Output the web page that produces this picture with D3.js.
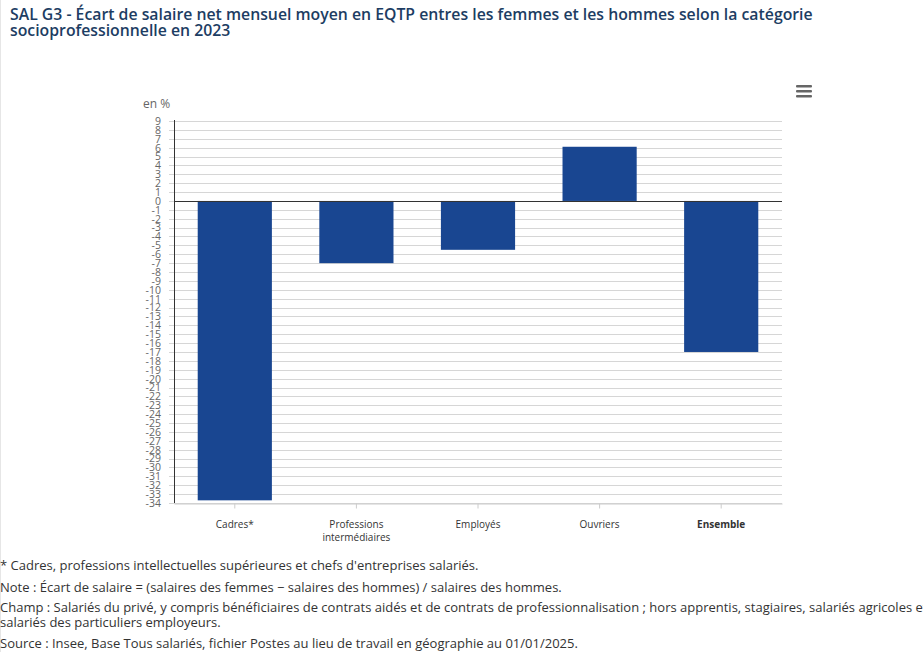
<!DOCTYPE html>
<html>
<head>
<meta charset="utf-8">
<script src="https://cdn.jsdelivr.net/npm/d3@7"></script>
<style>
  body { margin: 0; background: #fff; }
  svg { display: block; font-family: "Open Sans", sans-serif; }
</style>
</head>
<body>
<svg id="chart" width="923" height="652"></svg>
<script>
// données
const categories = ['Cadres*', 'Professions intermédiaires', 'Employés', 'Ouvriers', 'Ensemble'];
const values     = [-33.7, -7.0, -5.5, 6.1, -17.0];
const yTicks     = d3.range(-34, 10, 1);

const titleLines = [
  "SAL G3 - Écart de salaire net mensuel moyen en EQTP entres les femmes et les hommes selon la catégorie",
  "socioprofessionnelle en 2023"
];
const notes = [
  "* Cadres, professions intellectuelles supérieures et chefs d'entreprises salariés.",
  "Note : Écart de salaire = (salaires des femmes − salaires des hommes) / salaires des hommes.",
  "Champ : Salariés du privé, y compris bénéficiaires de contrats aidés et de contrats de professionnalisation ; hors apprentis, stagiaires, salariés agricoles et",
  "salariés des particuliers employeurs.",
  "Source : Insee, Base Tous salariés, fichier Postes au lieu de travail en géographie au 01/01/2025."
];
const noteY = [570, 592, 612, 627, 648];

// zone de tracé
const plot = {left: 174, right: 782, top: 121, bottom: 503};
const svg = d3.select('#chart');

// bordure gauche légère
svg.append('line').attr('x1', 0.5).attr('x2', 0.5).attr('y1', 0).attr('y2', 652)
  .attr('stroke', '#e6e6e6');

// titre
svg.append('text')
  .attr('x', 10).attr('y', 20)
  .attr('fill', '#1d3d63').attr('font-size', 15.8).attr('font-weight', 600)
  .selectAll('tspan').data(titleLines).join('tspan')
    .attr('x', 10).attr('dy', (d, i) => i ? 16 : 0)
    .text(d => d);

// échelles
const x = d3.scaleBand().domain(categories)
  .range([plot.left, plot.right]).paddingInner(0.39).paddingOuter(0.195);
const y = d3.scaleLinear().domain([-34, 9]).range([plot.bottom, plot.top]);

// grille
svg.append('g').selectAll('line').data(yTicks).join('line')
  .attr('x1', plot.left - 5).attr('x2', plot.right)
  .attr('y1', d => Math.round(y(d)) + 0.5).attr('y2', d => Math.round(y(d)) + 0.5)
  .attr('stroke', '#d6d6d6').attr('stroke-width', 1);

// axe Y
const yAxis = svg.append('g')
  .attr('transform', `translate(${plot.left},0)`)
  .call(d3.axisLeft(y).tickValues(yTicks).tickSize(0).tickPadding(13).tickFormat(d3.format('d')));
yAxis.select('.domain').remove();
yAxis.selectAll('text').attr('fill', '#666').attr('font-size', 10.5)
  .attr('font-family', '"Open Sans", sans-serif').text(d => String(d));

svg.append('line')
  .attr('x1', plot.left + 0.5).attr('x2', plot.left + 0.5)
  .attr('y1', plot.top - 1).attr('y2', plot.bottom)
  .attr('stroke', '#333').attr('stroke-width', 1);

svg.append('text').attr('x', 143).attr('y', 108)
  .attr('fill', '#666').attr('font-size', 12).text('en %');

// barres
svg.append('g').selectAll('rect').data(values).join('rect')
  .attr('x', (d, i) => x(categories[i]))
  .attr('width', x.bandwidth())
  .attr('y', d => y(Math.max(0, d)))
  .attr('height', d => Math.abs(y(d) - y(0)))
  .attr('fill', '#194691');

// ligne zéro
svg.append('line')
  .attr('x1', plot.left).attr('x2', plot.right)
  .attr('y1', Math.round(y(0)) + 0.5).attr('y2', Math.round(y(0)) + 0.5)
  .attr('stroke', '#333').attr('stroke-width', 1);

// axe X
const xAxis = svg.append('g')
  .attr('transform', `translate(0,${Math.round(plot.bottom) + 0.5})`)
  .call(d3.axisBottom(x).tickSize(5).tickSizeOuter(0).tickFormat(''));
xAxis.select('.domain').attr('stroke', '#ccc');
xAxis.selectAll('.tick line').attr('stroke', '#ccc');

const labelWrap = {'Professions intermédiaires': ['Professions', 'intermédiaires']};
svg.append('g').selectAll('text').data(categories).join('text')
  .attr('x', d => x(d) + x.bandwidth() / 2)
  .attr('y', 528)
  .attr('text-anchor', 'middle')
  .attr('fill', '#333').attr('font-size', 10)
  .attr('font-weight', d => d === 'Ensemble' ? 700 : 400)
  .each(function(d) {
    const lines = labelWrap[d] || [d];
    d3.select(this).selectAll('tspan').data(lines).join('tspan')
      .attr('x', x(d) + x.bandwidth() / 2)
      .attr('dy', (l, i) => i ? 13 : 0)
      .text(l => l);
  });

// menu
svg.append('g').selectAll('rect').data([0, 1, 2]).join('rect')
  .attr('x', 796).attr('y', i => 85 + i * 5).attr('width', 16).attr('height', 2.5)
  .attr('rx', 1).attr('fill', '#666');

// notes
svg.append('g').selectAll('text').data(notes).join('text')
  .attr('x', 0).attr('y', (d, i) => noteY[i])
  .attr('fill', '#333').attr('font-size', 13)
  .text(d => d);
</script>
</body>
</html>
